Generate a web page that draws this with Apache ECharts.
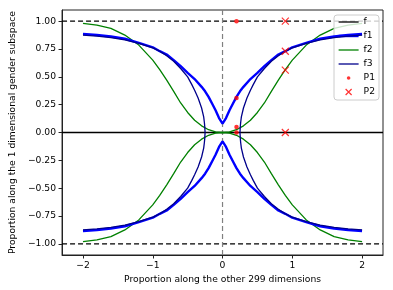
<!DOCTYPE html>
<html>
<head>
<meta charset="utf-8">
<script src="https://cdn.jsdelivr.net/npm/echarts@6/dist/echarts.min.js"></script>
<style>html,body{margin:0;padding:0;background:#fff}#c{width:393px;height:290px}</style>
</head>
<body>
<div id="c"></div>
<script>
// ---- data (upper-left halves; curves are symmetric) ----
const xTicks = [-2, -1, 0, 1, 2];
const yTicks = [-1, -0.75, -0.5, -0.25, 0, 0.25, 0.5, 0.75, 1];

const f1X = [-2, -1.8, -1.6, -1.4, -1.2, -1.0, -0.9, -0.8, -0.7, -0.6, -0.5, -0.4, -0.3, -0.25, -0.2, -0.15, -0.1, -0.05, 0];
const f1Y = [0.885, 0.875, 0.862, 0.842, 0.805, 0.765, 0.73, 0.70, 0.65, 0.595, 0.535, 0.48, 0.41, 0.37, 0.32, 0.26, 0.20, 0.13, 0.08];

const f2X = [-2, -1.8, -1.6, -1.4, -1.2, -1.0, -0.9, -0.8, -0.7, -0.6, -0.5, -0.4, -0.3, -0.2, -0.1, 0];
const f2Y = [0.98, 0.965, 0.935, 0.875, 0.785, 0.65, 0.565, 0.47, 0.37, 0.265, 0.18, 0.11, 0.06, 0.025, 0.006, 0];

const f3X = [-2, -1.8, -1.6, -1.4, -1.2, -1.0, -0.9, -0.8, -0.7, -0.6, -0.5, -0.44, -0.4, -0.35, -0.3, -0.27, -0.26, -0.255, -0.25];
const f3Y = [0.875, 0.865, 0.852, 0.832, 0.80, 0.76, 0.73, 0.69, 0.64, 0.575, 0.50, 0.43, 0.38, 0.31, 0.22, 0.14, 0.09, 0.055, 0];

const fLevels = [0];          // solid f line
const dashedLevels = [1, -1]; // dashed reference lines
const p1 = [[0.2, 1.0], [0.2, 0.31], [0.2, 0.05], [0.2, 0.0]];
const p2 = [[0.9, 1.0], [0.9, 0.73], [0.9, 0.56], [0.9, 0.0]];

const X_MIN = -2.3, X_MAX = 2.3, Y_MIN = -1.1, Y_MAX = 1.1;

// ---- helpers ----
function half(xs, ys, sx, sy) { return xs.map((x, i) => [sx * x, sy * ys[i]]); }
function full(xs, ys, sy) {
  const left = half(xs, ys, 1, sy);
  const right = half(xs, ys, -1, sy).reverse();
  if (xs[xs.length - 1] === 0) right.shift();
  return left.concat(right);
}
const minus = s => String(s).replace('-', '\u2212');
const FONT = 'DejaVu Sans';
const FS = 9.2;

function lineSeries(name, data, color, width, type, z) {
  return { name: name, type: 'line', data: data, symbol: 'none', showSymbol: false,
    lineStyle: { color: color, width: width, type: type || 'solid' }, itemStyle: { color: color },
    z: z || 2, silent: true, animation: false, clip: true };
}

const C = { f: '#000000', f1: '#0000ff', f2: '#008000', f3: '#00008b', P: '#ff0000' };

const series = [];
fLevels.forEach(v => series.push(lineSeries('f', [[X_MIN, v], [X_MAX, v]], C.f, 1.3, 'solid', 2)));
dashedLevels.forEach(v => series.push(lineSeries('', [[X_MIN, v], [X_MAX, v]], '#000', 1.3, [5, 3], 2)));
series.push(lineSeries('', [[0, Y_MIN], [0, Y_MAX]], '#808080', 1.2, [5, 3], 2));
series.push(lineSeries('f2', full(f2X, f2Y, 1), C.f2, 1.3, 'solid', 3));
series.push(lineSeries('f2', full(f2X, f2Y, -1), C.f2, 1.3, 'solid', 3));
series.push(lineSeries('f1', full(f1X, f1Y, 1), C.f1, 2.4, 'solid', 4));
series.push(lineSeries('f1', full(f1X, f1Y, -1), C.f1, 2.4, 'solid', 4));
[[1, 1], [-1, 1], [1, -1], [-1, -1]].forEach(s =>
  series.push(lineSeries('f3', half(f3X, f3Y, s[0], s[1]), C.f3, 1.3, 'solid', 5)));
series.push({ name: 'P1', type: 'scatter', data: p1, symbol: 'circle', symbolSize: 4.5,
  itemStyle: { color: C.P }, z: 6, animation: false });
series.push({ name: 'P2', type: 'scatter', data: p2, symbol: 'path://M0,0L10,10M10,0L0,10', symbolSize: 7,
  itemStyle: { color: 'rgba(0,0,0,0)', borderColor: C.P, borderWidth: 1.2 }, z: 7, animation: false });

// legend icons (20x7 boxes, padded with move-to points)
const lineIcon = w => 'path://M0,0M20,7M0,' + (3.5 - w / 2) + 'H20V' + (3.5 + w / 2) + 'H0Z';
const legendData = [
  { name: 'f', icon: lineIcon(1.3), itemStyle: { color: C.f, borderWidth: 0 } },
  { name: 'f1', icon: lineIcon(2.4), itemStyle: { color: C.f1, borderWidth: 0 } },
  { name: 'f2', icon: lineIcon(1.3), itemStyle: { color: C.f2, borderWidth: 0 } },
  { name: 'f3', icon: lineIcon(1.3), itemStyle: { color: C.f3, borderWidth: 0 } },
  { name: 'P1', icon: 'path://M0,0M20,7M8.2,3.5a1.8,1.8 0 1,0 3.6,0a1.8,1.8 0 1,0 -3.6,0Z', itemStyle: { color: C.P, borderWidth: 0 } },
  { name: 'P2', icon: 'path://M0,0M20,7M7,0.5L13,6.5M13,0.5L7,6.5', itemStyle: { color: 'rgba(0,0,0,0)', borderColor: C.P, borderWidth: 1.2 } }
];

const chart = echarts.init(document.getElementById('c'), null, { renderer: 'canvas' });
chart.setOption({
  animation: false,
  backgroundColor: '#fff',
  textStyle: { fontFamily: FONT },
  grid: { left: 54, right: 10, top: 10, bottom: 35, show: true, borderColor: '#222', borderWidth: 1, containLabel: false },
  legend: {
    data: legendData,
    orient: 'vertical', right: 14, top: 15,
    itemWidth: 20, itemHeight: 7, itemGap: 4,
    padding: [2, 4, 3, 4],
    backgroundColor: 'rgba(255,255,255,0.8)', borderColor: '#cccccc', borderWidth: 1, borderRadius: 3,
    textStyle: { fontFamily: FONT, fontSize: FS, lineHeight: 10, color: '#000' },
    selectedMode: false
  },
  xAxis: {
    type: 'value', min: X_MIN, max: X_MAX,
    name: 'Proportion along the other 299 dimensions', nameLocation: 'middle', nameGap: 17,
    nameTextStyle: { fontFamily: FONT, fontSize: FS, color: '#000' },
    axisLine: { show: true, onZero: false, lineStyle: { color: '#222', width: 1 } },
    axisTick: { show: true, length: 3.5, lineStyle: { color: '#222' }, customValues: xTicks },
    axisLabel: { fontFamily: FONT, fontSize: FS, color: '#000', margin: 6, customValues: xTicks, formatter: v => minus(v) },
    splitLine: { show: false }
  },
  yAxis: {
    type: 'value', min: Y_MIN, max: Y_MAX,
    name: 'Proportion along the 1 dimensional gender subspace', nameLocation: 'middle', nameGap: 38,
    nameTextStyle: { fontFamily: FONT, fontSize: FS, color: '#000' },
    axisLine: { show: true, onZero: false, lineStyle: { color: '#222', width: 1 } },
    axisTick: { show: true, length: 3.5, lineStyle: { color: '#222' }, customValues: yTicks },
    axisLabel: { fontFamily: FONT, fontSize: FS, color: '#000', margin: 6, customValues: yTicks, formatter: v => minus(v.toFixed(2)) },
    splitLine: { show: false }
  },
  series: series
});
</script>
</body>
</html>
